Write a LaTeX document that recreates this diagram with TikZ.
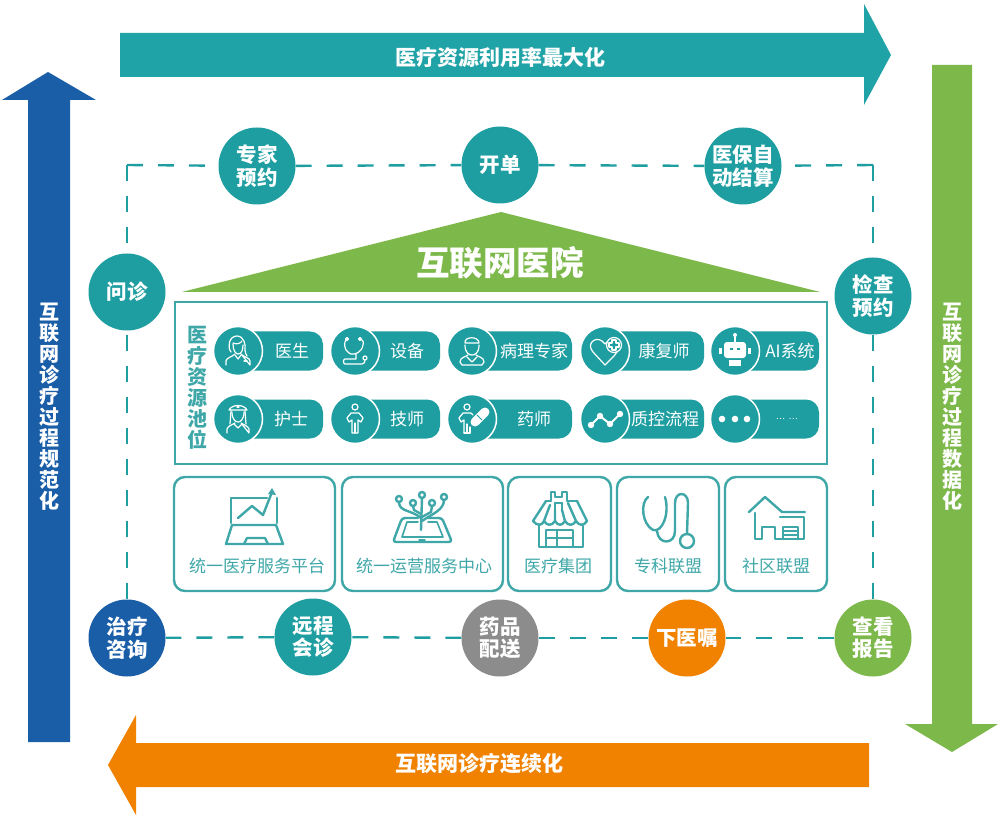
\documentclass[tikz,border=0pt]{standalone}
\usepackage{fontspec}
\setmainfont{Noto Sans CJK SC}
\newfontfamily\latfont{Liberation Sans}
\definecolor{teal1}{HTML}{20A3A6}
\definecolor{teal2}{HTML}{1F9EA1}
\definecolor{teal3}{HTML}{3FA7A8}
\definecolor{blue1}{HTML}{1A5EA8}
\definecolor{green1}{HTML}{7DB84A}
\definecolor{orange1}{HTML}{F08200}
\definecolor{grey1}{HTML}{8C8C8C}
\tikzset{
  big/.style={fill=#1,draw=none},
  arrowtxt/.style={text=white,font=\fontsize{21}{21}\selectfont\bfseries,align=center,inner sep=0pt},
  vtxt/.style={text=white,font=\fontsize{20}{21}\selectfont\bfseries,align=center,inner sep=0pt},
  circ/.style={circle,fill=#1,draw=none,minimum size=77pt,inner sep=0pt,text=white,align=center,font=\fontsize{20.5}{22.5}\selectfont\bfseries},
  dashline/.style={draw=teal2,line width=2.4pt,dash pattern=on 16pt off 15pt},
  pillbody/.style={fill=teal2,draw=none,rounded corners=13pt},
  pillhead/.style={circle,fill=teal2,draw=white,line width=1.5pt,minimum size=49pt,inner sep=0pt},
  pilltxt/.style={text=white,font=\fontsize{17}{18}\selectfont,inner sep=0pt},
  wic/.style={draw=white,line width=1.2pt,line join=round,line cap=round},
  tic/.style={draw=teal3,line width=2.4pt,line join=round,line cap=round},
  orgbox/.style={draw=teal3,line width=2.4pt,rounded corners=11pt,fill=white},
  orgtxt/.style={text=teal3,font=\fontsize{17}{18}\selectfont,inner sep=0pt}
}
\newcommand{\pillitem}[6]{%
  \path[pillbody] (#2,#3-19.5) -- (#4,#3-19.5) -- (#4,#3+19.5) -- (#2,#3+19.5) -- cycle;
  \node[pillhead] (#1) at (#2,#3) {};
  \node[pilltxt] (#1t) at (#5,#3) {#6};
}
\begin{document}
\begin{tikzpicture}[x=1pt,y=-1pt]
\useasboundingbox[fill=white] (0,0) rectangle (1004,826);
% big arrows
\path[big=teal1] (120,33) -- (864,33) -- (864,4) -- (891,55) -- (864,105) -- (864,77) -- (120,77) -- cycle;
\node[arrowtxt] (topt) at (500,58) {医疗资源利用率最大化};
\path[big=blue1] (28,742) -- (28,100) -- (2,100) -- (48,72) -- (96,100) -- (70,100) -- (70,742) -- cycle;
\node[vtxt] (leftt) at (49,407) {互\\联\\网\\诊\\疗\\过\\程\\规\\范\\化};
\path[big=green1] (932,65) -- (972,65) -- (972,724) -- (998,724) -- (952,752) -- (905,724) -- (932,724) -- cycle;
\node[vtxt] (rightt) at (952,407) {互\\联\\网\\诊\\疗\\过\\程\\数\\据\\化};
\path[big=orange1] (869,743) -- (136,743) -- (136,715) -- (108,765) -- (136,815) -- (136,787) -- (869,787) -- cycle;
\node[arrowtxt] (bott) at (479,764) {互联网诊疗连续化};
% circles
\node[circ=teal2] (c1) at (257,166) {专家\\预约};
\node[circ=teal2] (c2) at (500,165) {开单};
\node[circ=teal2] (c3) at (743,166) {医保自\\动结算};
\node[circ=teal2] (c4) at (873,296) {检查\\预约};
\node[circ=green1] (c5) at (873,638) {查看\\报告};
\node[circ=orange1] (c6) at (687,638) {下医嘱};
\node[circ=grey1] (c7) at (500,638) {药品\\配送};
\node[circ=teal2] (c8) at (313,637) {远程\\会诊};
\node[circ=blue1] (c9) at (127,638) {治疗\\咨询};
\node[circ=teal2] (c10) at (127,292) {问诊};
\coordinate (tl) at (127,165);
\coordinate (tr) at (873,165);
\draw[dashline] (tl) -- (c10);
\draw[dashline] (tl) -- (c1);
\draw[dashline] (c1) -- (c2);
\draw[dashline] (c2) -- (c3);
\draw[dashline] (tr) -- (c3);
\draw[dashline] (tr) -- (c4);
\draw[dashline] (c4) -- (c5);
\draw[dashline] (c5) -- (c6);
\draw[dashline] (c6) -- (c7);
\draw[dashline] (c7) -- (c8);
\draw[dashline] (c8) -- (c9);
\draw[dashline] (c9) -- (c10);
% roof
\path[big=green1] (182,292) -- (501,212) -- (820,292) -- cycle;
\node[inner sep=0pt,text=white,font=\fontsize{33.5}{34}\selectfont\bfseries] (roof) at (500,263) {互联网医院};
% pool box
\draw[draw=teal3,line width=2.4pt] (175,302) rectangle (827,464);
\node[inner sep=0pt,align=center,text=teal3,font=\fontsize{20}{21}\selectfont\bfseries] (pool) at (197,388) {医\\疗\\资\\源\\池\\位};
\pillitem{p1}{238}{351}{323}{292}{医生}
\pillitem{p2}{355}{351}{440}{407}{设备}
\pillitem{p3}{472}{351}{572}{534}{病理专家}
\pillitem{p4}{605}{351}{704}{664}{康复师}
\pillitem{p5}{735}{351}{819}{790}{AI系统}
\pillitem{p6}{238}{419}{323}{291}{护士}
\pillitem{p7}{355}{419}{440}{407}{技师}
\pillitem{p8}{472}{419}{572}{534}{药师}
\pillitem{p9}{605}{419}{704}{665}{质控流程}
\pillitem{p10}{735}{419}{819}{787}{\latfont\fontsize{10}{12}\selectfont … …}
% doctor
\begin{scope}[shift={(238,351)},wic]
\draw (-7,1) .. controls (-11,-4) and (-9,-15) .. (-1,-15) .. controls (6,-15) and (8,-6) .. (7,-1) .. controls (7,2) and (8,3) .. (9,5);
\draw (-5,-8) .. controls (-1,-6) and (3,-8) .. (4,-10);
\draw (-5,-7) .. controls (-5,0) and (-2,3) .. (0,3) .. controls (3,3) and (5,0) .. (5,-6);
\draw (-12,14) -- (-12,10) .. controls (-12,7) and (-6,6) .. (-3,3);
\draw (3,3) .. controls (6,6) and (12,7) .. (12,10) -- (12,14) -- cycle;
\draw (-3,4) -- (0,8) -- (3,4);
\draw (6,10) -- (9,10);
\end{scope}
% stethoscope device
\begin{scope}[shift={(355,351)},wic]
\draw (-8,-12) .. controls (-12,-9) and (-11,-1) .. (-6,2) -- (-4,3) .. controls (0,4) and (7,1) .. (8,-6) .. controls (9,-9) and (8,-11) .. (5,-12);
\draw (-8,-12) circle (1.5);
\draw (5,-12) circle (1.5);
\draw (1,3) -- (1,8) -- (-10,8) .. controls (-12,8) and (-12,13) .. (-10,13) -- (7,13) .. controls (9,13) and (10,11) .. (10,9);
\draw (10,7) circle (2);
\end{scope}
% pathologist
\begin{scope}[shift={(472,351)},wic]
\draw (-7,-8) .. controls (-8,-15) and (7,-15) .. (7,-8) -- cycle;
\draw (-7,-6) .. controls (-7,2) and (-3,4) .. (0,4) .. controls (3,4) and (7,2) .. (7,-6);
\draw (-4,4) .. controls (-6,6) and (-12,6) .. (-12,11) -- (-10,14) -- (10,14) -- (12,11) .. controls (12,6) and (6,6) .. (4,4);
\draw (-5,6) -- (0,11) -- (5,6);
\end{scope}
% heart
\begin{scope}[shift={(605,351)},wic]
\draw (0,14) -- (-12,1) .. controls (-19,-7) and (-10,-15) .. (-3,-10) -- (0,-7) -- (2,-9);
\draw (0,14) -- (9,5) -- (12,1);
\draw (9,-6) circle (7.5);
\draw (7,-11) -- (11,-11) -- (11,-8) -- (14,-8) -- (14,-4) -- (11,-4) -- (11,-1) -- (7,-1) -- (7,-4) -- (4,-4) -- (4,-8) -- (7,-8) -- cycle;
\end{scope}
% robot
\begin{scope}[shift={(735,351)}]
\fill[white] (-1,-16) rectangle (1,-9);
\fill[white] (0,-16) circle (2);
\fill[white,rounded corners=3pt] (-11,-9) rectangle (11,7);
\fill[white] (-16,-3) rectangle (-13,3);
\fill[white] (13,-3) rectangle (16,3);
\fill[white] (-6,9) rectangle (6,15);
\fill[teal2] (-5,-3) rectangle (-2,-1);
\fill[teal2] (2,-3) rectangle (5,-1);
\end{scope}
% nurse
\begin{scope}[shift={(238,419)},wic]
\draw (-9,-9) .. controls (-6,-15) and (6,-15) .. (9,-9) -- (-9,-9);
\draw (-1,-12) -- (1,-12);
\draw (-7,-8) -- (-8,5);
\draw (7,-8) -- (8,5);
\draw (-6,-7) .. controls (-6,1) and (-2,3) .. (0,3) .. controls (2,3) and (6,1) .. (6,-7);
\draw (-11,14) -- (-11,10) .. controls (-10,7) and (-6,6) .. (-3,4);
\draw (3,4) .. controls (6,6) and (10,7) .. (11,10) -- (11,14) -- cycle;
\draw (-4,5) -- (0,9) -- (4,5);
\end{scope}
% technician
\begin{scope}[shift={(355,419)},wic]
\draw (0,-12) circle (3);
\draw (-3,14) -- (-3,1) -- (-6,3) -- (-8,-1) -- (-4,-6) -- (4,-6) -- (8,-1) -- (6,3) -- (3,1) -- (3,14) -- cycle;
\draw (0,14) -- (0,4);
\end{scope}
% pharmacist
\begin{scope}[shift={(472,419)},wic]
\draw (-5,-12) circle (3);
\draw (-8,14) -- (-8,1) -- (-11,3) -- (-13,-1) -- (-9,-6) -- (-1,-6) -- (1,-4);
\draw (-2,14) -- (-8,14);
\draw (-2,14) -- (-2,8);
\draw (-5,14) -- (-5,5);
\draw[white,line width=9pt,line cap=round] (3,3) -- (13,-7);
\draw[teal2,line width=1pt] (5,-4) -- (10,1);
\end{scope}
% chart line
\begin{scope}[shift={(605,419)}]
\draw[white,line width=2pt] (-14,6) -- (-5,-3) -- (5,5) -- (15,-5);
\foreach \x/\y in {-14/6,-5/-3,5/5,15/-5} \fill[white] (\x,\y) circle (3.2);
\end{scope}
% dots
\begin{scope}[shift={(735,419)}]
\foreach \x in {-13,0,12} \fill[white] (\x,0) circle (3.3);
\end{scope}
% org boxes
\node[orgbox,minimum width=161pt,minimum height=114pt,inner sep=0pt] (b1) at (254.5,534) {};
\node[orgbox,minimum width=161pt,minimum height=114pt,inner sep=0pt] (b2) at (422.5,534) {};
\node[orgbox,minimum width=103pt,minimum height=114pt,inner sep=0pt] (b3) at (559.5,534) {};
\node[orgbox,minimum width=102pt,minimum height=114pt,inner sep=0pt] (b4) at (668,534) {};
\node[orgbox,minimum width=102pt,minimum height=114pt,inner sep=0pt] (b5) at (776,534) {};
\node[orgtxt] (b1t) at (257,566) {统一医疗服务平台};
\node[orgtxt] (b2t) at (424,566) {统一运营服务中心};
\node[orgtxt] (b3t) at (558,566) {医疗集团};
\node[orgtxt] (b4t) at (668,566) {专科联盟};
\node[orgtxt] (b5t) at (776,566) {社区联盟};
% laptop
\begin{scope}[tic]
\draw (267,498) -- (231,498) -- (231,523);
\draw (277,498) -- (277,523);
\draw (238,518) -- (252,506) -- (263,515) -- (272,492);
\fill[teal3] (272,488) -- (276,495) -- (268,494) -- cycle;
\draw (232,525) -- (276,525) -- (283,544) -- (226,544) -- cycle;
\draw (244,544) -- (247,538) -- (265,538) -- (268,544);
% tablet
\draw[rounded corners=3pt] (418,518) -- (402,518) -- (393,542) -- (452,542) -- (442,518) -- (428,518);
\draw[line width=1.6pt] (418,522) -- (407,522) -- (402,537) -- (443,537) -- (437,522) -- (428,522);
\draw (421,530) -- (422,498);
\draw (422,495) circle (3);
\draw (399,499) circle (3);
\draw (413,503) circle (3);
\draw (432,503) circle (3);
\draw (444,497) circle (3);
\draw (399,503) .. controls (400,512) and (412,510) .. (421,518);
\draw (413,506) -- (414,510) -- (421,514);
\draw (432,506) -- (431,512) -- (422,517);
\draw (444,500) .. controls (444,510) and (432,514) .. (422,521);
\draw[line width=1.4pt] (419,540) -- (425,540);
% store
\draw (551,500) -- (551,492) -- (555,492) -- (555,497) -- (562,497) -- (562,492) -- (567,492) -- (567,500);
\draw (555,503) -- (555,510);
\draw (562,503) -- (562,510);
\draw (555,503) -- (562,503);
\draw (546,501) -- (551,501);
\draw (567,501) -- (577,501);
\draw (546,501) -- (533,521);
\draw (577,501) -- (587,521);
\draw (533,521) .. controls (537,526) and (542,526) .. (544,521) -- (550,505);
\draw (544,521) .. controls (547,526) and (552,526) .. (555,521) -- (555,510);
\draw (555,521) .. controls (558,526) and (562,526) .. (565,521) -- (562,510);
\draw (565,521) .. controls (568,526) and (573,526) .. (576,521) -- (568,503);
\draw (576,521) .. controls (579,526) and (584,526) .. (587,521);
\draw (539,526) -- (539,547) -- (583,547) -- (583,526);
\draw (546,547) -- (546,530) -- (573,530) -- (573,547);
\draw (546,538) -- (573,538);
\draw (557,530) -- (557,547);
% stethoscope
\draw (648,497) .. controls (640,503) and (642,524) .. (653,530) .. controls (662,533) and (670,514) .. (665,497);
\draw (657,531) .. controls (658,545) and (675,545) .. (675,531) -- (675,503) .. controls (675,491) and (688,491) .. (688,503) -- (687,534);
\draw (687,541) circle (7);
% house
\draw (749,512) -- (765,497) -- (782,512) -- (805,512);
\draw (755,513) -- (755,539) -- (762,539) -- (762,527) -- (775,527) -- (775,539) -- (804,539) -- (804,517) -- (780,517);
\draw (783,539) -- (783,527) -- (798,527) -- (798,539);
\draw[line width=1.3pt] (783,531) -- (798,531);
\draw[line width=1.3pt] (783,535) -- (798,535);
\end{scope}
\end{tikzpicture}
\end{document}
